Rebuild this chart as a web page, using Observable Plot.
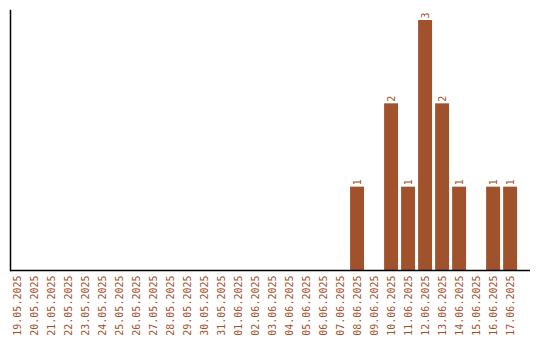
<!DOCTYPE html>
<html>
<head>
<meta charset="utf-8">
<script src="https://cdn.jsdelivr.net/npm/d3@7"></script>
<script src="https://cdn.jsdelivr.net/npm/@observablehq/plot@0.6"></script>
<style>
  html, body { margin: 0; padding: 0; background: #fff; }
  svg text { -webkit-font-smoothing: none; font-smooth: never; }
</style>
</head>
<body>
<div id="chart"></div>
<script>
const dates = [
  "19.05.2025","20.05.2025","21.05.2025","22.05.2025","23.05.2025","24.05.2025",
  "25.05.2025","26.05.2025","27.05.2025","28.05.2025","29.05.2025","30.05.2025",
  "31.05.2025","01.06.2025","02.06.2025","03.06.2025","04.06.2025","05.06.2025",
  "06.06.2025","07.06.2025","08.06.2025","09.06.2025","10.06.2025","11.06.2025",
  "12.06.2025","13.06.2025","14.06.2025","15.06.2025","16.06.2025","17.06.2025"
];
const counts = [
  0,0,0,0,0,0,
  0,0,0,0,0,0,
  0,0,0,0,0,0,
  0,0,1,0,2,1,
  3,2,1,0,1,1
];
const data = dates.map((d, i) => ({date: d, value: counts[i]}));
const color = "#a0522d";

const chart = Plot.plot({
  width: 540,
  height: 340,
  marginLeft: 10,
  marginRight: 10,
  marginTop: 10,
  marginBottom: 70,
  style: {fontFamily: "DejaVu Sans Mono", fontSize: "10px", background: "#fff"},
  x: {domain: dates, paddingInner: 0.18, paddingOuter: 0.38, align: 0, round: false,
      tickRotate: -90, tickSize: 0, tickPadding: 5, label: null},
  y: {domain: [0, 3.12], axis: null},
  marks: [
    Plot.barY(data, {x: "date", y: "value", fill: color}),
    Plot.text(data.filter(d => d.value > 0), {
      x: "date", y: "value", text: d => String(d.value),
      rotate: -90, textAnchor: "start", dy: -2, fill: color, fontSize: 10
    }),
    Plot.axisX({tickRotate: -90, tickSize: 0, tickPadding: 5, fill: color, label: null, fontSize: 10}),
    Plot.ruleY([0], {stroke: "#000", strokeWidth: 1.5}),
    Plot.frame({anchor: "left", stroke: "#000", strokeWidth: 1.5})
  ]
});
document.getElementById("chart").appendChild(chart);
</script>
</body>
</html>
